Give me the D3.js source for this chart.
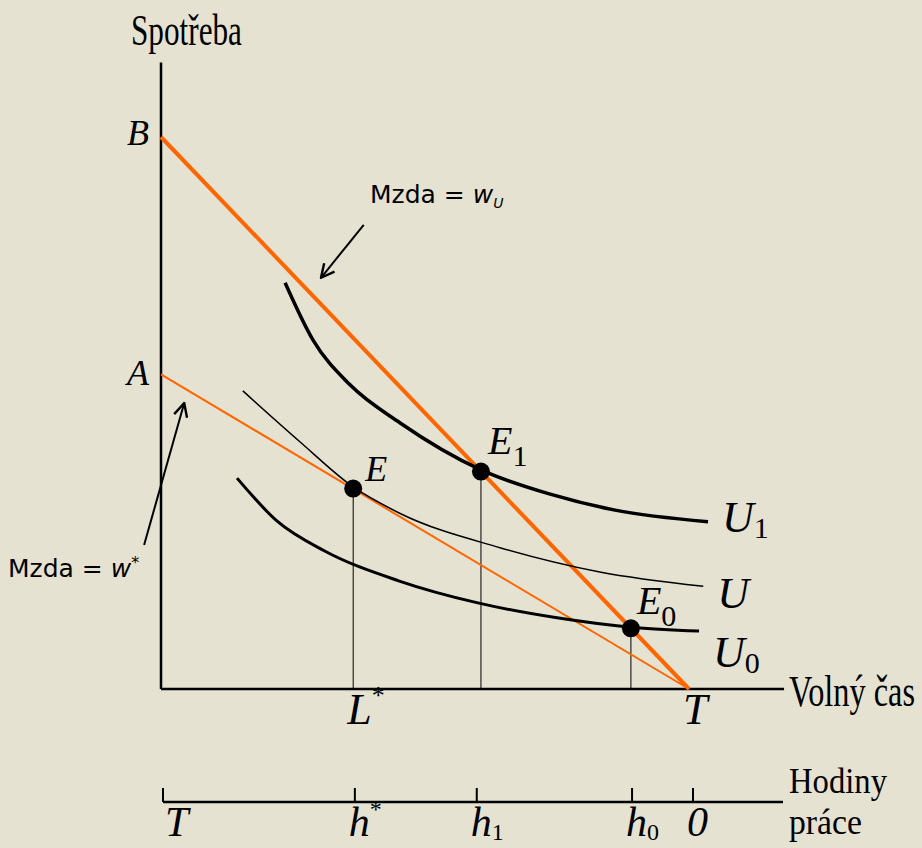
<!DOCTYPE html>
<html>
<head>
<meta charset="utf-8">
<script src="https://cdn.jsdelivr.net/npm/d3@7"></script>
<style>
  html, body { margin: 0; padding: 0; background: #E5E2D2; }
  svg { display: block; }
</style>
</head>
<body>
<div id="chart"></div>
<script>
// hodnoty: volny cas (0..T=100) a spotreba
const budgetWU = [[0, 100], [100, 0]];      // Mzda = w_U
const budgetWStar = [[0, 57], [100, 0]];    // Mzda = w*
const curveU1 = [[23.5, 73.6], [28.8, 63.2], [35.8, 55.1], [45.3, 48.2], [60.6, 39.7], [73.7, 35.3], [86, 32.4], [103.6, 30.3]];
const curveUStar = [[15.5, 54.0], [26.3, 44.8], [36.4, 36.6], [45.3, 31.8], [64.2, 25.6], [83.1, 21.2], [102.7, 18.6]];
const curveU0 = [[14.4, 38.2], [22, 30.4], [31, 25.0], [45, 19.6], [60, 15.6], [75, 12.9], [89.0, 11.2], [101.9, 10.5]];
const points = [
  { name: "E", sub: "", l: 36.4, c: 36.3 },
  { name: "E", sub: "1", l: 60.6, c: 39.4 },
  { name: "E", sub: "0", l: 89.0, c: 11.0 }
];
const curveLabels = [["U", "1"], ["U", ""], ["U", "0"]];
const hoursTicks = [100, 63.8, 40.8, 11.5, 0];
const hoursLabels = [["T", ""], ["h", "*"], ["h", "1"], ["h", "0"], ["0", ""]];
const leisureLabels = [["L", "*", 36.4], ["T", "", 100]];
const axisTitles = ["Spotřeba", "Volný čas", "Hodiny", "práce"];

function createChart() {
    const width = 922, height = 848;
    const svg = d3.select("#chart").append("svg")
        .attr("width", width)
        .attr("height", height);

    const x = d3.scaleLinear().domain([0, 100]).range([161, 689]);
    const y = d3.scaleLinear().domain([0, 100]).range([689, 137]);
    const h = d3.scaleLinear().domain([0, 100]).range([693, 163]);

    const serif = "'Liberation Serif', 'Times New Roman', serif";
    const sans = "'DejaVu Sans', Verdana, sans-serif";

    // sipka
    svg.append("defs").append("marker")
        .attr("id", "arrow")
        .attr("viewBox", "0 0 12 12")
        .attr("refX", 11).attr("refY", 6)
        .attr("markerWidth", 16).attr("markerHeight", 16)
        .attr("markerUnits", "userSpaceOnUse")
        .attr("orient", "auto")
        .append("path")
        .attr("d", "M1,1 L11,6 L1,11")
        .attr("fill", "none")
        .attr("stroke", "#000")
        .attr("stroke-width", 1.8);

    // osy
    svg.append("line")
        .attr("x1", x(0)).attr("x2", x(0))
        .attr("y1", y(0)).attr("y2", y(113.5))
        .attr("stroke", "#000").attr("stroke-width", 2.5);
    svg.append("line")
        .attr("x1", x(0)).attr("x2", x(118))
        .attr("y1", y(0)).attr("y2", y(0))
        .attr("stroke", "#000").attr("stroke-width", 2.5);

    // svisle cary k bodum
    svg.selectAll(".drop")
        .data(points)
        .join("line")
        .attr("x1", d => x(d.l)).attr("x2", d => x(d.l))
        .attr("y1", d => y(d.c)).attr("y2", y(0))
        .attr("stroke", "#000").attr("stroke-width", 1);

    const line = d3.line().x(d => x(d[0])).y(d => y(d[1]));
    const smooth = d3.line().x(d => x(d[0])).y(d => y(d[1])).curve(d3.curveMonotoneX);

    // rozpoctove primky
    svg.append("path").attr("d", line(budgetWStar))
        .attr("fill", "none").attr("stroke", "#FF6600").attr("stroke-width", 2);
    svg.append("path").attr("d", line(budgetWU))
        .attr("fill", "none").attr("stroke", "#FF6600").attr("stroke-width", 4);

    // indiferencni krivky
    const curves = [[curveU1, 3.5], [curveUStar, 1.5], [curveU0, 3]];
    curves.forEach(([c, w]) => {
        svg.append("path").attr("d", smooth(c))
            .attr("fill", "none").attr("stroke", "#000").attr("stroke-width", w);
    });

    // body
    svg.selectAll(".pt")
        .data(points)
        .join("circle")
        .attr("cx", d => x(d.l))
        .attr("cy", d => y(d.c))
        .attr("r", 9)
        .attr("fill", "#000");

    function label(xp, yp, main, sub, size, subSize, subShift) {
        const t = svg.append("text")
            .attr("x", xp).attr("y", yp)
            .attr("font-family", serif)
            .attr("font-style", "italic")
            .attr("font-size", size);
        t.append("tspan").text(main);
        if (sub) {
            t.append("tspan")
                .attr("font-size", subSize)
                .attr("font-style", "normal")
                .attr("dy", sub === "*" ? -size * 0.45 : subShift)
                .text(sub);
        }
        return t;
    }

    // popisky bodu
    const ptOffsets = [[12, -8], [7, -18], [6, -14]];
    points.forEach((d, i) => {
        label(x(d.l) + ptOffsets[i][0], y(d.c) + ptOffsets[i][1], d.name, d.sub, i === 0 ? 36 : 40, 30, 12);
    });

    // popisky krivek
    const curveEnds = [curveU1, curveUStar, curveU0].map(c => c[c.length - 1]);
    const curveDy = [10, 22, 36];
    curveLabels.forEach((d, i) => {
        const e = curveEnds[i];
        label(x(e[0]) + 14, y(e[1]) + curveDy[i], d[0], d[1], 44, 30, 6);
    });

    // popisky na ose y
    label(x(0) - 34, y(budgetWU[0][1]) + 8, "B", "", 36);
    label(x(0) - 34, y(budgetWStar[0][1]) + 11, "A", "", 36);

    // popisky na ose x
    leisureLabels.forEach(d => {
        label(x(d[2]) - 6, y(0) + 35, d[0], d[1], 44, 26, 0);
    });

    // osa hodin prace
    const hy = 802;
    svg.append("line")
        .attr("x1", h(100)).attr("x2", 783)
        .attr("y1", hy).attr("y2", hy)
        .attr("stroke", "#000").attr("stroke-width", 2.5);
    svg.selectAll(".htick")
        .data(hoursTicks)
        .join("line")
        .attr("x1", d => h(d)).attr("x2", d => h(d))
        .attr("y1", hy - 14).attr("y2", hy)
        .attr("stroke", "#000").attr("stroke-width", 2);
    hoursTicks.forEach((d, i) => {
        const lb = hoursLabels[i];
        label(h(d) + (i === 0 ? 2 : -6), hy + 34, lb[0], lb[1], 42, 24, 4);
    });

    // nazvy os - zuzene pismo
    function squeezed(txt, px, py, size, targetW) {
        const t = svg.append("text")
            .attr("font-family", serif).attr("font-size", size)
            .text(txt);
        const w = t.node().getComputedTextLength();
        t.attr("transform", `translate(${px},${py}) scale(${targetW / w},1)`);
    }
    squeezed(axisTitles[0], 131, 45, 44, 111);
    squeezed(axisTitles[1], 789, 706, 44, 126);
    squeezed(axisTitles[2], 789, 793, 36, 98);
    squeezed(axisTitles[3], 789, 834, 36, 73);

    // anotace mzdy
    svg.append("line")
        .attr("x1", x(38.4)).attr("y1", y(84.1))
        .attr("x2", x(30.3)).attr("y2", y(74.5))
        .attr("stroke", "#000").attr("stroke-width", 2)
        .attr("marker-end", "url(#arrow)");
    svg.append("line")
        .attr("x1", x(-3.2)).attr("y1", y(26.1))
        .attr("x2", x(4.4)).attr("y2", y(51.8))
        .attr("stroke", "#000").attr("stroke-width", 2)
        .attr("marker-end", "url(#arrow)");

    const t1 = svg.append("text")
        .attr("x", 370).attr("y", 203)
        .attr("font-family", sans).attr("font-size", 25);
    t1.append("tspan").text("Mzda = ");
    t1.append("tspan").attr("font-style", "italic").text("w");
    t1.append("tspan").attr("font-style", "italic").attr("font-size", 14).attr("dy", 5).text("U");

    const t2 = svg.append("text")
        .attr("x", 8).attr("y", 577)
        .attr("font-family", sans).attr("font-size", 25);
    t2.append("tspan").text("Mzda = ");
    t2.append("tspan").attr("font-style", "italic").text("w");
    t2.append("tspan").attr("font-size", 16).attr("dy", -9).text("*");
}

createChart();
</script>
</body>
</html>
